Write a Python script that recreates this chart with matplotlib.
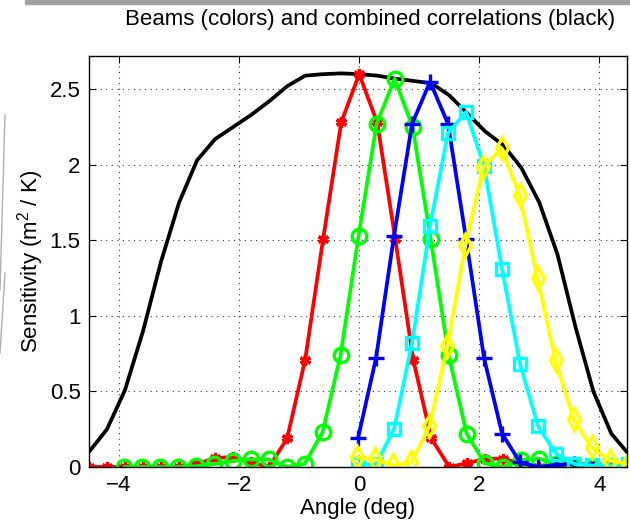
import matplotlib
matplotlib.use("Agg")
import matplotlib.pyplot as plt
from matplotlib.lines import Line2D
from matplotlib.patches import Rectangle

plt.rcParams["font.family"] = ["Liberation Sans", "DejaVu Sans"]
plt.rcParams["mathtext.default"] = "regular"

# combined correlations (black)
comb_angle = [-4.5, -4.2, -3.9, -3.6, -3.3, -3.0, -2.7, -2.4, -2.1, -1.8, -1.5,
              -1.2, -0.9, -0.6, -0.3, 0.0, 0.3, 0.6, 0.9, 1.2, 1.5, 1.8, 2.1,
              2.4, 2.7, 3.0, 3.3, 3.6, 3.9, 4.2, 4.5]
comb_sens = [0.10, 0.25, 0.51, 0.90, 1.36, 1.75, 2.03, 2.17, 2.25, 2.33, 2.42,
             2.52, 2.59, 2.60, 2.605, 2.60, 2.59, 2.57, 2.555, 2.54, 2.46, 2.34,
             2.22, 2.13, 1.98, 1.75, 1.41, 0.93, 0.50, 0.22, 0.08]

# beam 1 (red)
red_angle = [-4.5, -4.2, -3.9, -3.6, -3.3, -3.0, -2.7, -2.4, -2.1, -1.8, -1.5,
             -1.2, -0.9, -0.6, -0.3, 0.0, 0.3, 0.6, 0.9, 1.2, 1.5, 1.8, 2.1,
             2.4, 2.7, 3.0, 3.3, 3.6, 3.9, 4.2, 4.5]
red_sens = [0.0, 0.0, 0.0, 0.0, 0.0, 0.0, 0.02, 0.06, 0.065, 0.03, 0.0,
            0.19, 0.71, 1.51, 2.28, 2.60, 2.28, 1.51, 0.71, 0.19, 0.0, 0.025,
            0.055, 0.055, 0.02, 0.0, 0.0, 0.0, 0.0, 0.0, 0.0]

# beam 2 (green)
green_angle = [-3.91, -3.61, -3.31, -3.01, -2.71, -2.41, -2.11, -1.81, -1.51,
               -1.21, -0.91, -0.61, -0.31, -0.01, 0.29, 0.59, 0.89, 1.19, 1.49,
               1.79, 2.09, 2.39, 2.69, 2.99, 3.29, 3.59, 3.89, 4.19, 4.49]
green_sens = [0.0, 0.0, 0.0, 0.0, 0.005, 0.02, 0.04, 0.05, 0.05,
              0.0, 0.02, 0.23, 0.74, 1.53, 2.27, 2.57, 2.25, 1.51, 0.74,
              0.22, 0.025, 0.0, 0.045, 0.055, 0.02, 0.0, 0.0, 0.0, 0.0]

# beam 3 (blue)
blue_angle = [-0.02, 0.28, 0.58, 0.88, 1.18, 1.48, 1.78, 2.08, 2.38, 2.68,
              2.98, 3.28, 3.58, 3.88]
blue_sens = [0.19, 0.72, 1.53, 2.27, 2.55, 2.27, 1.51, 0.72, 0.22, 0.03,
             0.0, 0.015, 0.02, 0.015]

# beam 4 (cyan)
cyan_angle = [-0.02, 0.28, 0.58, 0.88, 1.18, 1.48, 1.78, 2.08, 2.38, 2.68,
              2.98, 3.28, 3.58, 3.88, 4.18, 4.48]
cyan_sens = [0.017, 0.017, 0.25, 0.82, 1.595, 2.21, 2.35, 1.99, 1.31, 0.68,
             0.27, 0.087, 0.02, 0.01, 0.01, 0.02]

# beam 5 (yellow)
yellow_angle = [-0.03, 0.27, 0.57, 0.87, 1.17, 1.47, 1.77, 2.07, 2.37, 2.67,
                2.97, 3.27, 3.57, 3.87, 4.17, 4.47]
yellow_sens = [0.065, 0.05, 0.01, 0.03, 0.27, 0.80, 1.47, 1.985, 2.11, 1.80,
               1.25, 0.705, 0.32, 0.13, 0.043, 0.02]

x_ticks = [-4, -2, 0, 2, 4]
y_ticks = [0, 0.5, 1, 1.5, 2, 2.5]
y_tick_labels = ["0", "0.5", "1", "1.5", "2", "2.5"]

fig = plt.figure(figsize=(6.3, 5.28), dpi=100)
ax = fig.add_axes([89 / 630, 1 - 467 / 528, 538 / 630, 411 / 528])

lw = 2.7
mew = 2.4
ax.plot(comb_angle, comb_sens, color="black", linewidth=lw)
asterisk = (6, 2, 0)
ax.plot(red_angle, red_sens, color=(1, 0, 0), linewidth=lw, marker=asterisk,
        markersize=8, markeredgewidth=mew)
ax.plot(green_angle, green_sens, color=(0, 1, 0), linewidth=lw, marker="o",
        markersize=10.5, markerfacecolor="none", markeredgewidth=mew)
ax.plot(blue_angle, blue_sens, color=(0, 0, 1), linewidth=lw, marker="+",
        markersize=11, markeredgewidth=mew)
ax.plot(cyan_angle, cyan_sens, color=(0, 1, 1), linewidth=lw, marker="s",
        markersize=8.5, markerfacecolor="none", markeredgewidth=mew)
ax.plot(yellow_angle, yellow_sens, color=(1, 1, 0), linewidth=lw, marker="d",
        markersize=11, markerfacecolor="none", markeredgewidth=mew)

ax.set_xlim(-4.5, 4.46)
ax.set_ylim(0, 2.72)
ax.set_xticks(x_ticks)
ax.set_yticks(y_ticks)
ax.set_yticklabels(y_tick_labels)
ax.tick_params(direction="in", length=5, width=0.8, labelsize=16,
               top=True, right=True, pad=6)
ax.grid(True, linestyle=(0, (1, 4)), color="black", linewidth=0.8, alpha=0.8)
for s in ax.spines.values():
    s.set_linewidth(1.0)

ax.set_title("Beams (colors) and combined correlations (black)",
             fontsize=16, pad=22, x=0.522)
ax.set_xlabel("Angle (deg)", fontsize=16, labelpad=1)
ax.set_ylabel("Sensitivity (m$^2$ / K)", fontsize=16, labelpad=3)

# screenshot edge remnants
fig.patches.append(Rectangle((25 / 630, 1 - 4 / 528), 605 / 630, 4 / 528,
                             transform=fig.transFigure, color="#a0a0a0"))
fig.add_artist(Line2D([5 / 630, 0], [1 - 115 / 528, 1 - 290 / 528],
                      color="#b0b0b0", linewidth=1))
fig.add_artist(Line2D([5 / 630, 0], [1 - 273 / 528, 1 - 353 / 528],
                      color="#b0b0b0", linewidth=1))

fig.savefig("out.png", dpi=100)
